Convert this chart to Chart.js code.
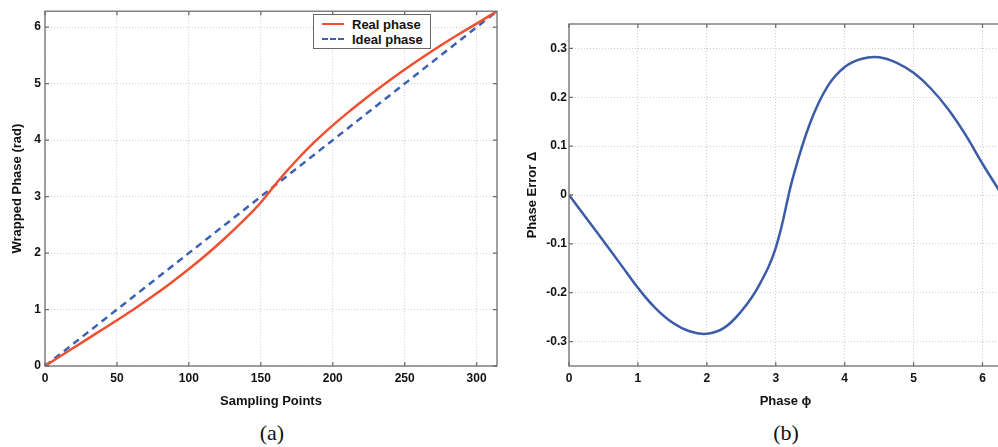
<!DOCTYPE html>
<html>
<head>
<meta charset="utf-8">
<script src="https://cdn.jsdelivr.net/npm/chart.js@4/dist/chart.umd.min.js"></script>
<style>
html,body{margin:0;padding:0;width:998px;height:447px;overflow:hidden;background:#fff;}
.wrap{position:absolute;top:0;}
.cap{position:absolute;width:100px;text-align:center;font-family:"Liberation Serif","Times New Roman",serif;font-size:22px;line-height:24px;color:#111;}
#legend{position:absolute;left:313px;top:14px;width:116px;height:33px;border:1px solid #666;background:#fff;font-family:"Liberation Sans",Arial,sans-serif;font-weight:bold;font-size:13px;color:#111;}
#legend .row{position:absolute;left:0;height:15px;line-height:15px;}
#legend .sw{position:absolute;left:8px;top:6px;width:22px;height:0;}
#legend .tx{position:absolute;left:38px;top:0;white-space:nowrap;}
</style>
</head>
<body>
<div class="wrap" style="left:0;width:500px;height:420px;"><canvas id="ca" width="500" height="420"></canvas></div>
<div class="wrap" style="left:500px;width:520px;height:420px;"><canvas id="cb" width="520" height="420"></canvas></div>
<div id="legend">
  <div class="row" style="top:2px;"><span class="sw" style="border-top:2.5px solid #ef5030;"></span><span class="tx">Real phase</span></div>
  <div class="row" style="top:17px;"><span class="sw" style="border-top:2.5px dashed #3d62b5;"></span><span class="tx">Ideal phase</span></div>
</div>
<div class="cap" style="left:222px;top:421px;">(a)</div>
<div class="cap" style="left:736px;top:421px;">(b)</div>
<script>
// ---- data ----
const samplingPoints = [0, 12.5, 25, 37.5, 50, 62.5, 75, 87.5, 100, 112.5, 125, 137.5, 150, 162.5, 175, 187.5, 200, 212.5, 225, 237.5, 250, 262.5, 275, 287.5, 300, 314.16];
const realPhase      = [0, 0.203, 0.406, 0.608, 0.81, 1.019, 1.239, 1.471, 1.716, 1.978, 2.262, 2.565, 2.896, 3.29, 3.648, 3.972, 4.262, 4.529, 4.782, 5.021, 5.25, 5.468, 5.676, 5.874, 6.064, 6.283];
const idealPoints    = [0, 314.16];
const idealPhase     = [0, 6.283];

const phasePhi   = [0, 0.25, 0.5, 0.75, 1.0, 1.25, 1.5, 1.75, 2.0, 2.25, 2.5, 2.75, 3.0, 3.25, 3.5, 3.75, 4.0, 4.25, 4.5, 4.75, 5.0, 5.25, 5.5, 5.75, 6.0, 6.283];
const phaseError = [0, -0.047, -0.094, -0.142, -0.19, -0.231, -0.261, -0.279, -0.284, -0.272, -0.238, -0.187, -0.108, 0.036, 0.148, 0.222, 0.262, 0.279, 0.282, 0.271, 0.25, 0.218, 0.176, 0.124, 0.064, 0.0];

const xTicksA = [0, 50, 100, 150, 200, 250, 300];
const yTicksA = [0, 1, 2, 3, 4, 5, 6];
const xTicksB = [0, 1, 2, 3, 4, 5, 6];
const yTicksB = [-0.3, -0.2, -0.1, 0, 0.1, 0.2, 0.3];

// ---- styling helpers ----
const FONT = '"Liberation Sans", Arial, sans-serif';
const tickFont = {family: FONT, size: 12, weight: 'bold'};
const titleFont = {family: FONT, size: 13, weight: 'bold'};
const gridOpts = {color: '#cfcfcf', lineWidth: 1, drawTicks: false};
const borderOpts = {display: false, dash: [1, 2]};

const boxPlugin = {
  id: 'box',
  afterDatasetsDraw(chart) {
    const {ctx, chartArea: a, scales} = chart;
    ctx.save();
    ctx.strokeStyle = '#6e6e6e';
    ctx.lineWidth = 1.3;
    ctx.beginPath();
    scales.x.ticks.forEach(t => {
      const px = scales.x.getPixelForValue(t.value);
      ctx.moveTo(px, a.bottom); ctx.lineTo(px, a.bottom - 4);
      ctx.moveTo(px, a.top); ctx.lineTo(px, a.top + 4);
    });
    scales.y.ticks.forEach(t => {
      const py = scales.y.getPixelForValue(t.value);
      ctx.moveTo(a.left, py); ctx.lineTo(a.left + 4, py);
      ctx.moveTo(a.right, py); ctx.lineTo(a.right - 4, py);
    });
    ctx.stroke();
    ctx.strokeRect(a.left, a.top, a.right - a.left, a.bottom - a.top);
    ctx.restore();
  }
};

function mkScale(min, max, ticks, title, titlePad, tickPad, fitSize, horizontal) {
  return {
    type: 'linear', min: min, max: max,
    afterBuildTicks: s => { s.ticks = ticks.map(v => ({value: v})); },
    afterFit: s => { if (horizontal) s.height = fitSize; else s.width = fitSize; },
    ticks: {font: tickFont, color: '#111', padding: tickPad, callback: v => String(v), maxRotation: 0, autoSkip: false},
    grid: gridOpts,
    border: borderOpts,
    title: {display: true, text: title, font: titleFont, color: '#111', padding: titlePad}
  };
}

Chart.defaults.animation = false;

new Chart(document.getElementById('ca'), {
  type: 'line',
  data: {
    datasets: [
      {label: 'Real phase', data: samplingPoints.map((x, i) => ({x: x, y: realPhase[i]})),
       borderColor: '#ef5030', borderWidth: 2.5, pointRadius: 0, tension: 0.4, fill: false},
      {label: 'Ideal phase', data: idealPoints.map((x, i) => ({x: x, y: idealPhase[i]})),
       borderColor: '#3d62b5', borderWidth: 2.5, borderDash: [7, 5], pointRadius: 0, fill: false}
    ]
  },
  options: {
    responsive: false, devicePixelRatio: 1,
    layout: {padding: {top: 10, right: 3, bottom: 11, left: 0}},
    plugins: {legend: {display: false}, tooltip: {enabled: false}},
    scales: {
      x: mkScale(0, 314.16, xTicksA, 'Sampling Points', {top: 0, bottom: 0}, 5, 43, true),
      y: mkScale(0, 6.283, yTicksA, 'Wrapped Phase (rad)', {top: 10, bottom: 0}, 4, 45, false)
    }
  },
  plugins: [boxPlugin]
});

new Chart(document.getElementById('cb'), {
  type: 'line',
  data: {
    datasets: [
      {label: 'Phase error', data: phasePhi.map((x, i) => ({x: x, y: phaseError[i]})),
       borderColor: '#3d5ca8', borderWidth: 2.5, pointRadius: 0, tension: 0.4, fill: false}
    ]
  },
  options: {
    responsive: false, devicePixelRatio: 1,
    layout: {padding: {top: 24, right: 18, bottom: 11, left: 0}},
    plugins: {legend: {display: false}, tooltip: {enabled: false}},
    scales: {
      x: mkScale(0, 6.283, xTicksB, 'Phase ϕ', {top: 0, bottom: 0}, 5, 43, true),
      y: mkScale(-0.35, 0.35, yTicksB, 'Phase Error Δ', {top: 25, bottom: 0}, 2, 69, false)
    }
  },
  plugins: [boxPlugin]
});
</script>
</body>
</html>
